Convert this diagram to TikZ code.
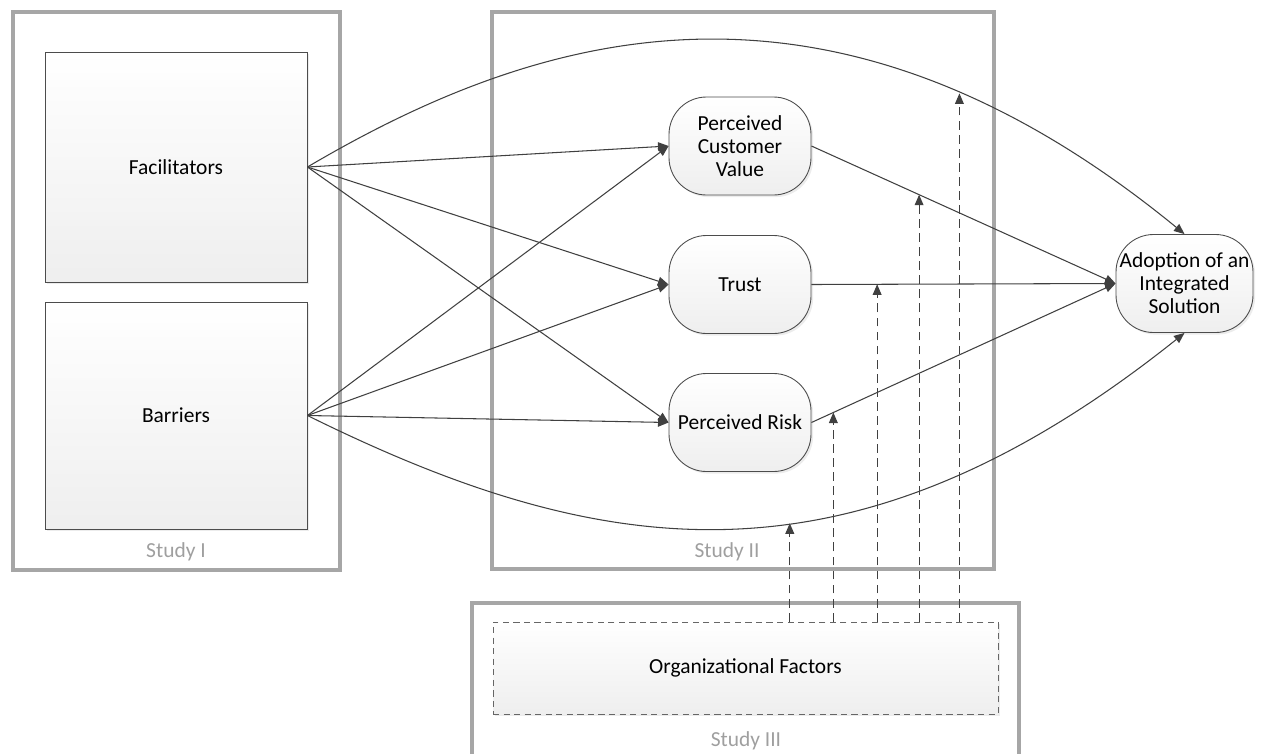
\documentclass[tikz,border=0pt]{standalone}
\usepackage{fontspec}
\setmainfont{Carlito}
\usetikzlibrary{arrows.meta, shadows, calc, positioning}

\tikzset{
    study/.style={draw=gray!70, line width=2.2pt},
    studylabel/.style={text=gray!75},
    factor/.style={draw=black!70, line width=0.5pt, top color=white, bottom color=gray!13,
        drop shadow={shadow xshift=1.2pt, shadow yshift=-1.2pt, opacity=0.15}},
    construct/.style={factor, rounded corners=0.75cm, minimum width=2.84cm, minimum height=1.96cm,
        align=center, inner sep=1pt},
    link/.style={draw=black!75, line width=0.6pt, ->},
    moderate/.style={draw=black!75, line width=0.6pt, dash pattern=on 5pt off 3pt, ->},
}

\begin{document}
\begin{tikzpicture}[>={Triangle[length=6pt, width=5pt]}, font=\fontsize{12.2}{13.1}\selectfont]
    \useasboundingbox (0,0) rectangle (25.22,-15.06);

    % Study frames
    \draw[study] (0.26,-0.24) rectangle (6.80,-11.40);
    \draw[study] (9.84,-0.24) rectangle (19.88,-11.38);
    \draw[study] (9.44,-15.4) |- (20.38,-12.06) -- (20.38,-15.4);
    \node[studylabel] (studyI) at (3.52,-11.04) {Study I};
    \node[studylabel] (studyII) at (14.54,-11.04) {Study II};
    \node[studylabel] (studyIII) at (14.92,-14.82) {Study III};

    % Antecedents
    \node[factor, minimum width=5.24cm, minimum height=4.6cm] (fac) at (3.52,-3.34) {Facilitators};
    \node[factor, minimum width=5.24cm, minimum height=4.54cm] (bar) at (3.52,-8.31) {Barriers};

    % Mediators
    \node[construct] (pcv) at (14.8,-2.92) {Perceived\\Customer\\Value};
    \node[construct] (trust) at (14.8,-5.69) {Trust};
    \node[construct] (risk) at (14.8,-8.45) {Perceived Risk};

    % Outcome
    \node[construct, minimum width=2.74cm] (adopt) at (23.69,-5.67) {Adoption of an\\Integrated\\Solution};

    % Moderator
    \node[factor, draw=black!60, dash pattern=on 3.5pt off 2.5pt, minimum width=10.1cm, minimum height=1.84cm]
        (org) at (14.91,-13.36) {Organizational Factors};

    % Direct links
    \foreach \src in {fac, bar} {
        \foreach \dst in {pcv, trust, risk} {
            \draw[link] (\src.east) -- (\dst.west);
        }
    }
    \draw[link] (pcv.east) -- (adopt.west) coordinate[pos=0.354] (mpcv);
    \draw[link] (trust.east) -- (adopt.west) coordinate[pos=0.216] (mtrust);
    \draw[link] (risk.east) -- (adopt.west) coordinate[pos=0.072] (mrisk);
    \draw[link] (fac.east) .. controls (10.8,-0.6) and (16.58,1.14) .. (adopt.north) coordinate[pos=0.78] (mtop);
    \draw[link] (bar.east) .. controls (12,-11.2) and (17,-12) .. (adopt.south) coordinate[pos=0.57] (mbot);

    % Moderating effects
    \foreach \m in {mbot, mrisk, mtrust, mpcv, mtop} {
        \draw[moderate] (\m |- org.north) -- (\m);
    }
\end{tikzpicture}
\end{document}
